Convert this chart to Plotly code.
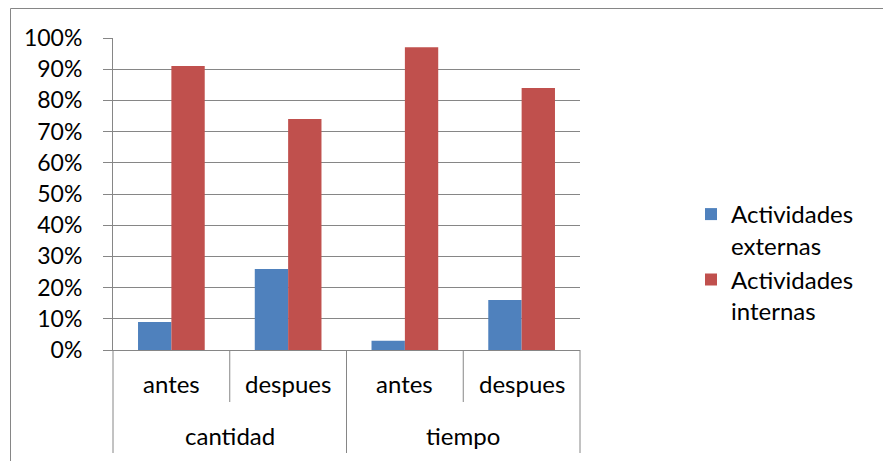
import plotly.graph_objects as go

# Grouped categories: outer level (measure) and inner level (phase)
grupos = ["cantidad", "cantidad", "tiempo", "tiempo"]
fases = ["antes", "despues", "antes", "despues"]
grupo_etiquetas = ["cantidad", "tiempo"]

# Share of activities per phase
externas = [0.09, 0.26, 0.03, 0.16]
internas = [0.91, 0.74, 0.97, 0.84]

serie_nombres = ["Actividades<br>externas", "Actividades<br>internas"]
colores = ["#4F81BD", "#C0504D"]
gris = "#868686"
fuente = "Lato, Calibri, sans-serif"

W, H = 883, 461
L, R, T, B = 113, 303, 38, 111
pw, ph = W - L - R, H - T - B


def px_x(x):
    return (x - L) / pw


def px_y(y):
    return (H - B - y) / ph


fig = go.Figure()
for nombre, valores, color in zip(serie_nombres, [externas, internas], colores):
    fig.add_trace(go.Bar(
        x=[grupos, fases], y=valores, name=nombre,
        marker=dict(color=color, line=dict(width=0)),
    ))

shapes = [
    # chart frame
    dict(type="rect", xref="paper", yref="paper",
         x0=px_x(10.5), x1=px_x(W + 20), y0=px_y(8.5), y1=px_y(H + 20),
         line=dict(color=gris, width=1), fillcolor="rgba(0,0,0,0)", layer="below"),
]
# category axis dividers: long ones around outer groups, short ones between phases
n = len(fases)
for i in range(n + 1):
    xp = i / n
    fondo = 453 if i % 2 == 0 else 402
    shapes.append(dict(type="line", xref="paper", yref="paper",
                       x0=xp, x1=xp, y0=0, y1=px_y(fondo),
                       line=dict(color=gris, width=1)))

annotations = []
for i, fase in enumerate(fases):
    annotations.append(dict(xref="paper", yref="paper", x=(i + 0.5) / n, y=px_y(383),
                            text=fase, showarrow=False, xanchor="center", yanchor="middle",
                            font=dict(family=fuente, size=24, color="black")))
ng = len(grupo_etiquetas)
for j, g in enumerate(grupo_etiquetas):
    annotations.append(dict(xref="paper", yref="paper", x=(j + 0.5) / ng, y=px_y(435.5),
                            text=g, showarrow=False, xanchor="center", yanchor="middle",
                            font=dict(family=fuente, size=24, color="black")))

fig.update_layout(
    width=W, height=H,
    margin=dict(l=L, r=R, t=T, b=B, pad=0),
    paper_bgcolor="white", plot_bgcolor="white",
    barmode="group", bargap=0.4286, bargroupgap=0,
    font=dict(family=fuente, size=23, color="black"),
    showlegend=True,
    legend=dict(x=px_x(691), y=px_y(192), xanchor="left", yanchor="top",
                font=dict(size=24), valign="top",
                itemwidth=30, tracegroupgap=0),
    shapes=shapes,
    annotations=annotations,
)
fig.update_yaxes(
    range=[0, 1], dtick=0.1, tickformat=".0%",
    showgrid=True, gridcolor=gris, gridwidth=1,
    showline=True, linecolor=gris, linewidth=1,
    ticks="outside", ticklen=9, tickcolor=gris,
    ticklabelstandoff=16, zeroline=False,
)
fig.update_xaxes(
    type="multicategory",
    showline=True, linecolor=gris, linewidth=1,
    showticklabels=False, showdividers=False, ticks="",
)

fig.write_html("out.html")
